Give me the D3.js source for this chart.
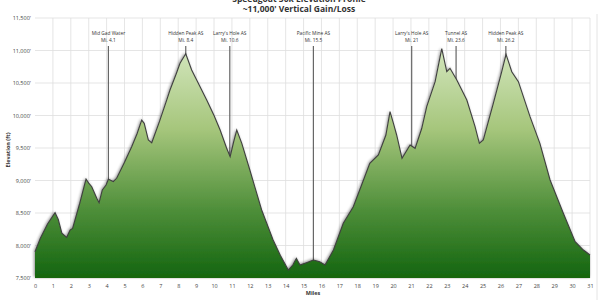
<!DOCTYPE html>
<html><head><meta charset="utf-8">
<script src="https://cdn.jsdelivr.net/npm/d3@7/dist/d3.min.js"></script>
<style>body{margin:0;background:#fff}svg{display:block}</style>
</head><body>
<svg id="c" width="600" height="300"></svg>
<script>
const titleLines = ["Speedgoat 50k Elevation Profile", "~11,000' Vertical Gain/Loss"];
const miles = [0,0.3,0.7,1.12,1.3,1.5,1.77,1.96,2.1,2.5,2.85,3.0,3.17,3.45,3.58,3.76,3.97,4.1,4.25,4.37,4.56,5.0,5.4,5.7,5.96,6.1,6.33,6.52,6.95,7.36,7.54,7.9,8.1,8.42,8.75,9.03,9.59,10.0,10.34,10.7,10.9,11.1,11.27,11.55,12.0,12.66,13.3,13.7,14.15,14.4,14.6,14.8,15.2,15.55,15.9,16.2,16.67,17.22,17.78,18.2,18.7,19.18,19.6,19.83,20.02,20.2,20.5,20.95,21.23,21.6,21.88,22.35,22.72,23.0,23.18,23.56,24.12,24.58,24.82,25.04,25.6,26.07,26.31,26.63,27.0,27.65,28.2,28.77,29.51,30.17,30.63,31];
const elevation = [7905,8110,8330,8505,8400,8190,8126,8238,8264,8650,9023,8960,8905,8726,8658,8854,8930,9018,9000,8982,9034,9280,9520,9720,9930,9880,9623,9580,9905,10240,10392,10650,10803,10950,10700,10546,10238,10000,9777,9500,9366,9600,9777,9572,9162,8546,8085,7850,7623,7700,7803,7700,7740,7777,7750,7700,7930,8341,8597,8900,9264,9392,9700,10059,9880,9700,9341,9546,9495,9800,10136,10520,11030,10674,10726,10546,10238,9828,9572,9623,10187,10674,10940,10674,10520,9982,9572,9008,8495,8058,7930,7854];
const stations = ["Mid Gad Water","Hidden Peak AS","Larry's Hole AS","Pacific Mine AS","Larry's Hole AS","Tunnel AS","Hidden Peak AS"];
const stationMiles = [4.1,8.42,10.88,15.55,21.04,23.52,26.3];
const stationMileLabels = ["Mi. 4.1","Mi. 8.4","Mi. 10.6","Mi. 15.5","Mi. 21","Mi. 23.6","Mi. 26.2"];
const yTicks = [7500,8000,8500,9000,9500,10000,10500,11000,11500];
const xTicks = d3.range(0,32);

const svg = d3.select("#c");
const font = "'Open Sans', sans-serif";
const x = d3.scaleLinear().domain([0,31]).range([35,590]);
const y = d3.scaleLinear().domain([7500,11500]).range([278,18]);

// title
svg.append("g").selectAll("text").data(titleLines).join("text")
  .attr("x",299).attr("y",(d,i)=>2+i*9.5).attr("text-anchor","middle")
  .attr("font-family",font).attr("font-weight","bold").attr("font-size",8.5).attr("fill","#333").text(d=>d);

// right border
svg.append("line").attr("x1",597).attr("x2",597).attr("y1",14).attr("y2",300).attr("stroke","#e4e4e4");

// grid
svg.append("g").selectAll("line").data(xTicks.slice(1)).join("line")
  .attr("x1",d=>x(d)).attr("x2",d=>x(d)).attr("y1",y(11500)).attr("y2",y(7500))
  .attr("stroke","#dedede").attr("stroke-width",0.8);
svg.append("g").selectAll("line").data(yTicks).join("line")
  .attr("x1",x(0)).attr("x2",x(31)).attr("y1",d=>y(d)).attr("y2",d=>y(d))
  .attr("stroke","#dedede").attr("stroke-width",0.8);

// axes
const yAxis = d3.axisLeft(y).tickValues(yTicks).tickSize(0).tickPadding(4).tickFormat(d=>d3.format(",")(d)+"'");
const gy = svg.append("g").attr("transform",`translate(${x(0)},0)`).call(yAxis);
gy.select(".domain").remove();
gy.selectAll("text").attr("font-family",font).attr("font-size",5.5).attr("fill","#444");
const xAxis = d3.axisBottom(x).tickValues(xTicks).tickSize(0).tickPadding(6).tickFormat(d3.format("d"));
const gx = svg.append("g").attr("transform",`translate(0,${y(7500)})`).call(xAxis);
gx.select(".domain").remove();
gx.selectAll("text").attr("font-family",font).attr("font-size",5.5).attr("fill","#444");

svg.append("text").attr("transform",`translate(10,${(y(7500)+y(11500))/2+2}) rotate(-90)`)
  .attr("text-anchor","middle").attr("font-family",font).attr("font-size",5.5).attr("font-weight","bold").attr("fill","#333").text("Elevation (ft)");
svg.append("text").attr("x",313).attr("y",295).attr("text-anchor","middle")
  .attr("font-family",font).attr("font-size",5.5).attr("font-weight","bold").attr("fill","#333").text("Miles");

// defs
const defs = svg.append("defs");
const grad = defs.append("linearGradient").attr("id","g").attr("x1",0).attr("x2",0).attr("y1",0).attr("y2",1);
grad.append("stop").attr("offset","0%").attr("stop-color","#d3e6bd");
grad.append("stop").attr("offset","35%").attr("stop-color","#a6c67c");
grad.append("stop").attr("offset","70%").attr("stop-color","#4f8f3a");
grad.append("stop").attr("offset","100%").attr("stop-color","#13650f");
const f = defs.append("filter").attr("id","sh").attr("x","-5%").attr("y","-5%").attr("width","110%").attr("height","110%");
f.append("feGaussianBlur").attr("in","SourceAlpha").attr("stdDeviation",1.6).attr("result","b");
f.append("feOffset").attr("in","b").attr("dx",-1.5).attr("dy",-1).attr("result","o");
f.append("feComponentTransfer").attr("in","o").attr("result","o2").append("feFuncA").attr("type","linear").attr("slope",0.45);
const m = f.append("feMerge"); m.append("feMergeNode").attr("in","o2"); m.append("feMergeNode").attr("in","SourceGraphic");

const pts = miles.map((d,i)=>[d,elevation[i]]);

// station lines (behind area)
svg.append("g").selectAll("line").data(stationMiles).join("line")
  .attr("x1",d=>x(d)).attr("x2",d=>x(d)).attr("y1",46).attr("y2",y(7600))
  .attr("stroke","#666").attr("stroke-width",1.2);

const area = d3.area().x(d=>x(d[0])).y0(y(7500)).y1(d=>y(d[1]));
svg.append("path").datum(pts).attr("d",area).attr("fill","url(#g)").attr("filter","url(#sh)");
svg.append("path").datum(pts).attr("d",d3.line().x(d=>x(d[0])).y(d=>y(d[1]))).attr("fill","none").attr("stroke","#3f3f3f").attr("stroke-width",1.1);

// station labels
const lg = svg.append("g");
stationMiles.forEach((d,i)=>{
  lg.append("text").attr("x",x(d)).attr("y",35).attr("text-anchor","middle").attr("font-family",font).attr("font-size",4.8).attr("fill","#333").text(stations[i]);
  lg.append("text").attr("x",x(d)).attr("y",41.5).attr("text-anchor","middle").attr("font-family",font).attr("font-size",4.8).attr("fill","#333").text(stationMileLabels[i]);
});
</script>
</body></html>
